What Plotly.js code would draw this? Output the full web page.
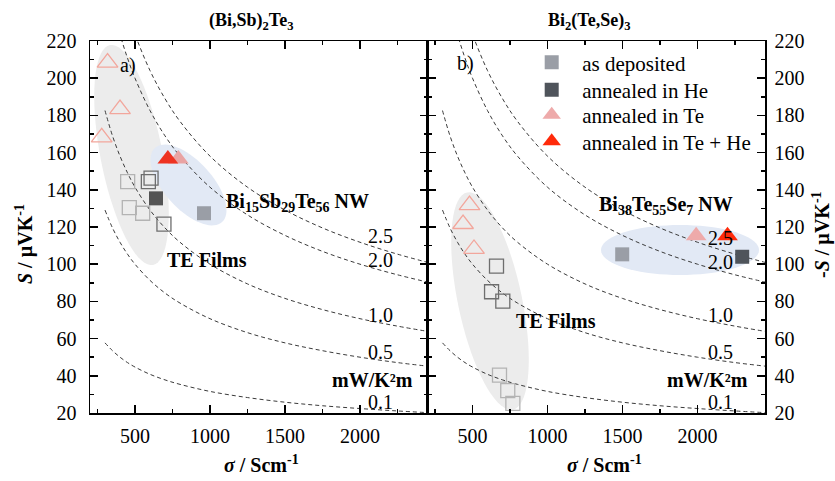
<!DOCTYPE html>
<html>
<head>
<meta charset="utf-8">
<script src="https://cdn.plot.ly/plotly-3.0.1.min.js"></script>
<style>html,body{margin:0;padding:0;background:#fff;}#chart{width:835px;height:481px;}</style>
</head>
<body>
<div id="chart"></div>
<script>
// ---------- data ----------
// iso power-factor curves (S in µV/K vs sigma in S/cm)
const isoSigma = [300, 350, 400, 450, 500, 600, 700, 800, 1000, 1250, 1500, 1750, 2000, 2250, 2450];
const isoPF01 = [57.7, 53.5, 50.0, 47.1, 44.7, 40.8, 37.8, 35.4, 31.6, 28.3, 25.8, 23.9, 22.4, 21.1, 20.2];
const isoPF05 = [129.1, 119.5, 111.8, 105.4, 100.0, 91.3, 84.5, 79.1, 70.7, 63.2, 57.7, 53.5, 50.0, 47.1, 45.2];
const isoPF10 = [182.6, 169.0, 158.1, 149.1, 141.4, 129.1, 119.5, 111.8, 100.0, 89.4, 81.6, 75.6, 70.7, 66.7, 63.9];
const isoPF20 = [258.2, 239.0, 223.6, 210.8, 200.0, 182.6, 169.0, 158.1, 141.4, 126.5, 115.5, 106.9, 100.0, 94.3, 90.4];
const isoPF25 = [288.7, 267.3, 250.0, 235.7, 223.6, 204.1, 189.0, 176.8, 158.1, 141.4, 129.1, 119.5, 111.8, 105.4, 101.0];
const pfLabels = ['2.5', '2.0', '1.0', '0.5', '0.1'];

// (a) (Bi,Sb)2Te3
const aFilmDepSigma = [451, 462, 551];
const aFilmDepS = [144.4, 130.4, 127.4];
const aFilmHeSigma = [589, 607, 693];
const aFilmHeS = [144.4, 146.3, 121.5];
const aFilmTeSigma = [317, 400, 278];
const aFilmTeS = [208.4, 183.4, 168.2];
const aFilmHeFilledSigma = [640];
const aFilmHeFilledS = [135.4];
const aNwDepSigma = [960];
const aNwDepS = [127.4];
const aNwTeSigma = [789];
const aNwTeS = [156.5];
const aNwTeHeSigma = [719];
const aNwTeHeS = [156.5];

// (b) Bi2(Te,Se)3
const bFilmTeSigma = [480, 437, 510];
const bFilmTeS = [131.8, 121.6, 108.2];
const bFilmHeSigma = [660, 627, 702];
const bFilmHeS = [99.0, 85.2, 80.2];
const bFilmDepSigma = [680, 735, 769];
const bFilmDepS = [40.4, 32.0, 25.2];
const bNwDepSigma = [1498];
const bNwDepS = [105.3];
const bNwHeSigma = [2298];
const bNwHeS = [104.0];
const bNwTeSigma = [1991];
const bNwTeS = [115.3];
const bNwTeHeSigma = [2200];
const bNwTeHeS = [115.3];

const legendNames = ['as deposited', 'annealed in He', 'annealed in Te', 'annealed in Te + He'];

// ---------- styling ----------
const FONT = 'Liberation Serif, Times New Roman, serif';
const L = 90, R = 765, T = 41, B = 413;
function px(x) { return (x - L) / (R - L); }
function py(y) { return (B - y) / (B - T); }
function ellipse(cx, cy, a, b, deg) {
  const th = deg * Math.PI / 180;
  let s = '';
  for (let i = 0; i <= 72; i++) {
    const t = 2 * Math.PI * i / 72;
    const ex = a * Math.cos(t), ey = b * Math.sin(t);
    const X = cx + ex * Math.cos(th) - ey * Math.sin(th);
    const Y = cy + ex * Math.sin(th) + ey * Math.cos(th);
    s += (i ? 'L' : 'M') + px(X).toFixed(5) + ',' + py(Y).toFixed(5);
  }
  return s + 'Z';
}

const C_DEP_OPEN = '#b3b3b3', C_HE_OPEN = '#6e6e6e', C_TE_OPEN = '#f2a69c';
const C_DEP = '#9a9ea6', C_HE = '#4f545b', C_TE = '#eeaaaa', C_TEHE = '#ff2a0a';

const dash = { color: '#3a3a3a', width: 1, dash: '4px,3px' };
const traces = [];
[['x', 'y'], ['x2', 'y2']].forEach(([xa, ya]) => {
  [isoPF25, isoPF20, isoPF10, isoPF05, isoPF01].forEach((arr) => {
    traces.push({ x: isoSigma, y: arr, xaxis: xa, yaxis: ya, mode: 'lines',
      line: Object.assign({ shape: 'spline' }, dash), showlegend: false, hoverinfo: 'skip' });
  });
});

function pts(x, y, xa, ya, symbol, color, size, opts) {
  const open = symbol.indexOf('open') >= 0;
  return Object.assign({
    x: x, y: y, xaxis: xa, yaxis: ya, mode: 'markers', showlegend: false,
    marker: { symbol: symbol, size: size, color: color, line: { color: color, width: open ? 1.3 : 0 } },
    cliponaxis: false
  }, opts || {});
}

const NB = '\u00a0\u00a0';
// panel a
traces.push(pts(aFilmDepSigma, aFilmDepS, 'x', 'y', 'square-open', C_DEP_OPEN, 14));
traces.push(pts(aFilmHeSigma, aFilmHeS, 'x', 'y', 'square-open', C_HE_OPEN, 14));
traces.push(pts(aFilmTeSigma, aFilmTeS, 'x', 'y', 'triangle-up-open', C_TE_OPEN, 18));
traces.push(pts(aFilmHeFilledSigma, aFilmHeFilledS, 'x', 'y', 'square', '#545454', 14));
traces.push(pts(aNwDepSigma, aNwDepS, 'x', 'y', 'square', C_DEP, 14));
traces.push(pts(aNwTeSigma, aNwTeS, 'x', 'y', 'triangle-up', '#e9a3a3', 18));
traces.push(pts(aNwTeHeSigma, aNwTeHeS, 'x', 'y', 'triangle-up', '#ee3322', 18));
// panel b
traces.push(pts(bFilmTeSigma, bFilmTeS, 'x2', 'y2', 'triangle-up-open', C_TE_OPEN, 18));
traces.push(pts(bFilmHeSigma, bFilmHeS, 'x2', 'y2', 'square-open', C_HE_OPEN, 14));
traces.push(pts(bFilmDepSigma, bFilmDepS, 'x2', 'y2', 'square-open', C_DEP_OPEN, 14));
traces.push(pts(bNwDepSigma, bNwDepS, 'x2', 'y2', 'square', C_DEP, 14, { name: NB + legendNames[0], showlegend: true, legend: 'legend' }));
traces.push(pts(bNwHeSigma, bNwHeS, 'x2', 'y2', 'square', C_HE, 14, { name: NB + legendNames[1], showlegend: true, legend: 'legend2' }));
traces.push(pts(bNwTeSigma, bNwTeS, 'x2', 'y2', 'triangle-up', C_TE, 18, { name: NB + legendNames[2], showlegend: true, legend: 'legend3' }));
traces.push(pts(bNwTeHeSigma, bNwTeHeS, 'x2', 'y2', 'triangle-up', C_TEHE, 18, { name: NB + legendNames[3], showlegend: true, legend: 'legend4' }));

function xaxis(domain, anchor) {
  return {
    domain: domain, anchor: anchor, range: [200, 2450], tick0: 0, dtick: 500,
    ticks: 'inside', ticklen: 8, tickwidth: 1.5, tickcolor: '#000',
    minor: { dtick: 250, tick0: 0, ticks: 'inside', ticklen: 4, tickwidth: 1.5, tickcolor: '#000' },
    showline: true, linewidth: 1.5, linecolor: '#000', mirror: 'allticks',
    showgrid: false, zeroline: false, ticklabelstandoff: 4,
    tickfont: { family: FONT, size: 20, color: '#000' }
  };
}
function yaxis(anchor, side, standoff) {
  return {
    anchor: anchor, side: side, range: [20, 220], tick0: 0, dtick: 20,
    ticks: 'inside', ticklen: 8, tickwidth: 1.5, tickcolor: '#000',
    minor: { dtick: 10, tick0: 0, ticks: 'inside', ticklen: 4, tickwidth: 1.5, tickcolor: '#000' },
    showline: true, linewidth: 1.5, linecolor: '#000', mirror: 'allticks',
    showgrid: false, zeroline: false, ticklabelstandoff: standoff,
    tickfont: { family: FONT, size: 20, color: '#000' }
  };
}

const legY = [62.7, 90, 115, 141.7];
function leg(i) {
  return { x: px(531.7), y: py(legY[i]), xanchor: 'left', yanchor: 'middle',
    bgcolor: 'rgba(0,0,0,0)', borderwidth: 0, font: { family: FONT, size: 21, color: '#000' } };
}

function ann(text, x, y, opts) {
  return Object.assign({ text: text, x: px(x), y: py(y), xref: 'paper', yref: 'paper',
    showarrow: false, xanchor: 'center', yanchor: 'middle',
    font: { family: FONT, size: 20, color: '#000' } }, opts || {});
}

const annotations = [
  ann('<b>(Bi,Sb)<sub>2</sub>Te<sub>3</sub></b>', 251, 21, { font: { family: FONT, size: 18, color: '#000' } }),
  ann('<b>Bi<sub>2</sub>(Te,Se)<sub>3</sub></b>', 589, 21, { font: { family: FONT, size: 18, color: '#000' } }),
  ann('<b><i>S</i> / µVK<sup>-1</sup></b>', 25, 244, { textangle: -90 }),
  ann('<b>-<i>S</i> / µVK<sup>-1</sup></b>', 821, 235, { textangle: -90 }),
  ann('<b><i>σ</i> / Scm<sup>-1</sup></b>', 261, 464),
  ann('<b><i>σ</i> / Scm<sup>-1</sup></b>', 604, 464),
  ann('a)', 128, 65), ann('b)', 465, 64),
  ann('<b>Bi<sub>15</sub>Sb<sub>29</sub>Te<sub>56</sub> NW</b>', 297, 203),
  ann('<b>Bi<sub>38</sub>Te<sub>55</sub>Se<sub>7</sub> NW</b>', 666, 205),
  ann('<b>TE Films</b>', 207, 260),
  ann('<b>TE Films</b>', 556, 321),
  ann('<b>mW/K²m</b>', 372, 380),
  ann('<b>mW/K²m</b>', 707, 380)
];
const pfY = [236, 260, 315, 352, 402];
pfLabels.forEach((t, i) => {
  annotations.push(ann(t, 380, pfY[i]));
  annotations.push(ann(t, 720, pfY[i] + (i < 2 ? 2 : 0)));
});

const shapes = [
  { type: 'path', xref: 'paper', yref: 'paper', path: ellipse(131.5, 155, 112, 31, 78.9), fillcolor: '#ececec', line: { width: 0 }, layer: 'below' },
  { type: 'path', xref: 'paper', yref: 'paper', path: ellipse(188.5, 185, 50, 24, 47.8), fillcolor: '#e2e9f5', line: { width: 0 }, layer: 'below' },
  { type: 'path', xref: 'paper', yref: 'paper', path: ellipse(490, 301, 111, 32, 78.1), fillcolor: '#ececec', line: { width: 0 }, layer: 'below' },
  { type: 'path', xref: 'paper', yref: 'paper', path: ellipse(680, 250, 79, 25, 0), fillcolor: '#e2e9f5', line: { width: 0 }, layer: 'below' }
];

const layout = {
  width: 835, height: 481,
  margin: { l: L, r: 835 - R, t: T, b: 481 - B, pad: 0 },
  paper_bgcolor: '#fff', plot_bgcolor: 'rgba(0,0,0,0)',
  xaxis: xaxis([0, 0.5], 'y'), yaxis: yaxis('x', 'left', 8),
  xaxis2: xaxis([0.5, 1], 'y2'), yaxis2: yaxis('x2', 'right', 4),
  legend: leg(0), legend2: leg(1), legend3: leg(2), legend4: leg(3),
  annotations: annotations, shapes: shapes,
  font: { family: FONT, size: 20, color: '#000' },
  hovermode: false
};

Plotly.newPlot('chart', traces, layout, { displayModeBar: false, staticPlot: true });
</script>
</body>
</html>
